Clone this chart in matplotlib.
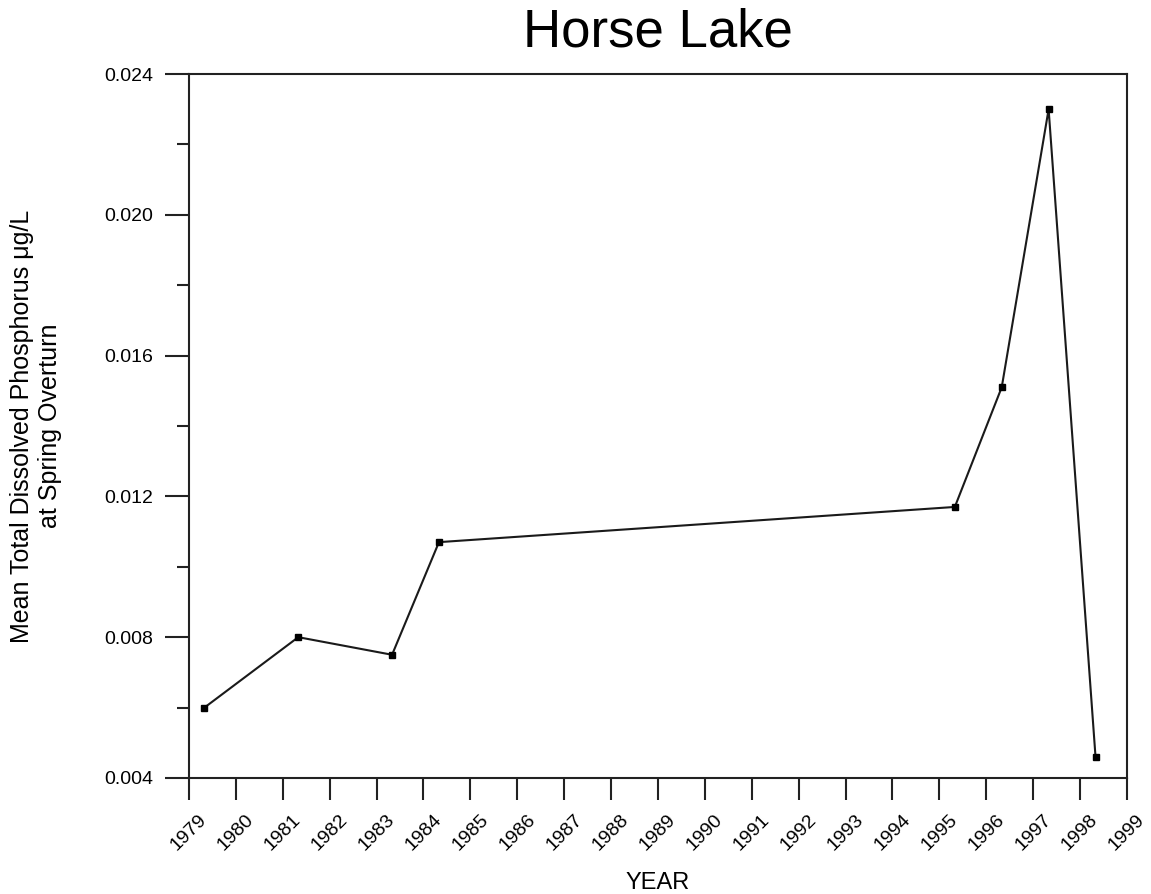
import matplotlib
matplotlib.use("Agg")
import matplotlib.pyplot as plt
from matplotlib.ticker import FixedLocator

years = [1979.33, 1981.33, 1983.33, 1984.33, 1995.33, 1996.33, 1997.33, 1998.33]
tdp = [0.0060, 0.0080, 0.0075, 0.0107, 0.0117, 0.0151, 0.0230, 0.0046]
year_ticks = list(range(1979, 2000))
year_labels = [str(y) for y in year_ticks]
y_ticks = [0.004, 0.008, 0.012, 0.016, 0.020, 0.024]
y_labels = ["0.004", "0.008", "0.012", "0.016", "0.020", "0.024"]
y_minor = [0.006, 0.010, 0.014, 0.018, 0.022]

plt.rcParams['font.family'] = ['Liberation Sans', 'DejaVu Sans']

fig = plt.figure(figsize=(11.51, 8.94), dpi=100)
ax = fig.add_axes([0.1642, 0.1298, 0.9791 - 0.1642, 0.9172 - 0.1298])

ax.plot(years, tdp, color='#1a1a1a', lw=1.5, marker='s', ms=5, mfc='black', mec='black')

ax.set_xlim(1979, 1999)
ax.set_ylim(0.004, 0.024)
ax.set_xticks(year_ticks)
ax.set_xticklabels(year_labels, rotation=45, ha='center', va='top', fontsize=14)
ax.set_yticks(y_ticks)
ax.set_yticklabels(y_labels, fontsize=14)
ax.yaxis.set_minor_locator(FixedLocator(y_minor))

ax.tick_params(axis='x', which='major', direction='out', length=16, width=1.5, pad=8, color='#222222')
ax.tick_params(axis='y', which='major', direction='out', length=17, width=1.5, pad=9, color='#222222')
ax.tick_params(axis='y', which='minor', direction='out', length=8.6, width=1.5, color='#222222')
for s in ax.spines.values():
    s.set_linewidth(1.5)
    s.set_color('#222222')

ax.set_title("Horse Lake", fontsize=38, pad=19.5)
ax.set_xlabel("YEAR", fontsize=17)
ax.xaxis.set_label_coords(0.4995, -0.158)
ax.xaxis.label.set_va('baseline')
ax.set_ylabel("Mean Total Dissolved Phosphorus \u03bcg/L\nat Spring Overturn", fontsize=18, linespacing=1.2)
ax.yaxis.set_label_coords(-0.1354, 0.5)

fig.savefig("out.png", dpi=100, facecolor='white')
